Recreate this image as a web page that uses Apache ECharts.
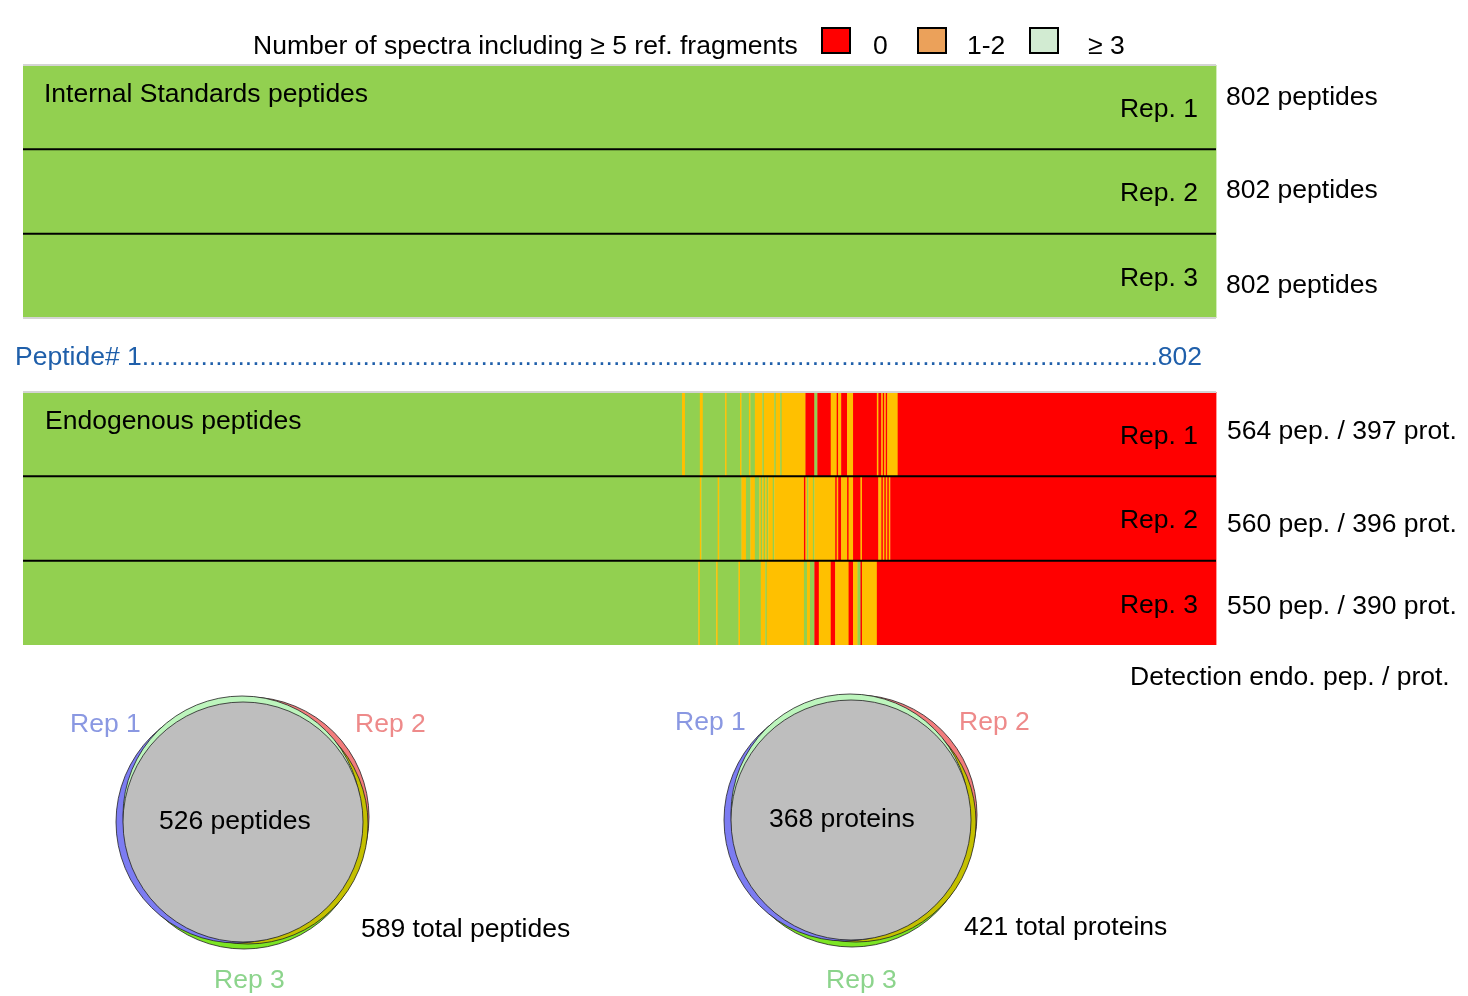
<!DOCTYPE html>
<html>
<head>
<meta charset="utf-8">
<script src="https://cdn.jsdelivr.net/npm/echarts@6/dist/echarts.min.js"></script>
<style>html,body{margin:0;padding:0;background:#fff}#c{width:1468px;height:996px}</style>
</head>
<body>
<div id="c"></div>
<script>
// ---------- data ----------
const repNames = ['Rep. 1', 'Rep. 2', 'Rep. 3'];
const nPeptides = 802;
const categoryNames = ['0', '1-2', '≥ 3']; // 0 = red, 1 = orange, 2 = green
const legendTitle = 'Number of spectra including ≥ 5 ref. fragments';

// runs: [startPeptide, endPeptide, category]
const internalRep1 = [[0, 802, 2]];
const internalRep2 = [[0, 802, 2]];
const internalRep3 = [[0, 802, 2]];

const endoRep1 = [[0,443,2],[443,445,1],[445,455,2],[455,457,1],[457,472,2],[472,473,1],[473,482,2],[482,483,1],
  [483,488,2],[488,489,1],[489,492,2],[492,497,1],[497,498,2],[498,505,1],[505,506,2],[506,509,1],[509,510,2],
  [510,526,1],[526,532,0],[532,534,2],[534,543,0],[543,547,1],[547,548,0],[548,550,1],[550,554,0],[554,558,1],
  [558,574,0],[574,575,1],[575,577,0],[577,578,1],[578,579,0],[579,580,1],[580,581,0],[581,588,1],[588,802,0]];
const endoRep2 = [[0,455,2],[455,456,1],[456,467,2],[467,468,1],[468,483,2],[483,486,1],[486,489,2],[489,492,1],
  [492,495,2],[495,496,1],[496,497,2],[497,498,1],[498,499,2],[499,500,1],[500,501,2],[501,504,1],[504,505,2],
  [505,525,1],[525,526,0],[526,527,1],[527,528,2],[528,531,1],[531,532,2],[532,546,1],[546,547,0],[547,548,1],
  [548,550,0],[550,554,1],[554,555,0],[555,558,1],[558,563,0],[563,564,1],[564,575,0],[575,577,1],[577,578,0],
  [578,579,1],[579,580,0],[580,581,1],[581,582,0],[582,583,1],[583,802,0]];
const endoRep3 = [[0,454,2],[454,455,1],[455,466,2],[466,467,1],[467,481,2],[481,482,1],[482,496,2],[496,499,1],
  [499,500,2],[500,525,1],[525,527,2],[527,529,1],[529,532,2],[532,535,0],[535,543,1],[543,546,0],[546,555,1],
  [555,558,0],[558,561,1],[561,563,2],[563,564,0],[564,574,1],[574,802,0]];

const internalCounts = ['802 peptides', '802 peptides', '802 peptides'];
const endoCounts = ['564 pep. / 397 prot.', '560 pep. / 396 prot.', '550 pep. / 390 prot.'];

// Venn: common and total counts
const vennPeptides = [526, 589];
const vennProteins = [368, 421];
const vennSetNames = ['Rep 1', 'Rep 2', 'Rep 3'];
// Venn region circles (drawing units, y up): [cx, cy, r]
// order: Rep3 only, Rep2 only, Rep2∩Rep3, Rep1 only, Rep1∩Rep2, all three
const vennCircles = [[1,-9,120],[6,3,120],[5,-4,120],[-6,-2,121],[-1,5,119],[0,-2,120]];

// ---------- styles ----------
const FONT = "'Liberation Sans', Arial, sans-serif";
const FS = 26.5;
const stripColors = ['#FF0000', '#FFC000', '#92D050'];
const legendColors = ['#FF0000', '#EBA15A', '#D2EBD2'];
const vennColors = ['#7CE524', '#F27C7C', '#C4C000', '#7C7CF2', '#BDF5BD', '#BEBEBE'];

function runsData(reps) {
  const out = [];
  reps.forEach((runs, r) => runs.forEach(([s, e, c]) => out.push([s, e, r, c])));
  return out;
}

function renderRun(params, api) {
  const s = api.value(0), e = api.value(1), r = api.value(2), c = api.value(3);
  const p0 = api.coord([s, r]);
  const p1 = api.coord([e, r]);
  const h = api.size([0, 1])[1];
  return {
    type: 'rect',
    shape: { x: p0[0], y: p0[1] - h / 2, width: Math.max(p1[0] - p0[0], 1) + 0.4, height: h },
    style: { fill: stripColors[c] }
  };
}

function renderSep(params, api) {
  const r = api.value(1), side = api.value(2), kind = api.value(3);
  const h = api.size([0, 1])[1];
  const y = api.coord([0, r])[1] + (side ? h / 2 : -h / 2);
  const x0 = api.coord([0, r])[0], x1 = api.coord([nPeptides, r])[0];
  return {
    type: 'line',
    shape: { x1: x0, y1: y, x2: x1, y2: y },
    style: kind ? { stroke: '#000', lineWidth: 2 } : { stroke: '#d4d4d4', lineWidth: 2 }
  };
}

function renderCircle(params, api) {
  const c = api.coord([api.value(0), api.value(1)]);
  const rr = api.size([api.value(2), 0])[0];
  return {
    type: 'circle',
    shape: { cx: c[0], cy: c[1], r: rr },
    style: { fill: vennColors[params.dataIndex], stroke: '#222', lineWidth: 0.8 }
  };
}

const stripGrids = [
  { left: 23, top: 65, width: 1193, height: 253 },
  { left: 23, top: 392, width: 1193, height: 253 }
];
const vennGrids = [
  { left: 113, top: 690, width: 260, height: 260 },
  { left: 721, top: 688, width: 260, height: 260 }
];

const xAxes = [], yAxes = [];
stripGrids.forEach((g, i) => {
  xAxes.push({ gridIndex: i, type: 'value', min: 0, max: nPeptides, show: false });
  yAxes.push({
    gridIndex: i, type: 'category', data: repNames, inverse: true, position: 'right', z: 10,
    axisLine: { show: false }, axisTick: { show: false }, splitLine: { show: false },
    axisLabel: {
      inside: true, margin: 18, color: '#000',
      formatter: '{a|{value}}',
      rich: { a: { fontSize: FS, fontFamily: FONT, color: '#000', padding: [5, 0, 0, 0] } }
    }
  });
});
vennGrids.forEach((g, i) => {
  xAxes.push({ gridIndex: i + 2, type: 'value', min: -130, max: 130, show: false });
  yAxes.push({ gridIndex: i + 2, type: 'value', min: -130, max: 130, show: false });
});

const series = [
  { type: 'custom', xAxisIndex: 0, yAxisIndex: 0, renderItem: renderRun, encode: { x: [0, 1], y: 2 },
    data: runsData([internalRep1, internalRep2, internalRep3]) },
  { type: 'custom', xAxisIndex: 1, yAxisIndex: 1, renderItem: renderRun, encode: { x: [0, 1], y: 2 },
    data: runsData([endoRep1, endoRep2, endoRep3]) },
  { type: 'custom', xAxisIndex: 0, yAxisIndex: 0, renderItem: renderSep, encode: { x: 0, y: 1 }, z: 5,
    data: [[0, 0, 0, 0], [0, 1, 0, 1], [0, 2, 0, 1], [0, 2, 1, 0]] },
  { type: 'custom', xAxisIndex: 1, yAxisIndex: 1, renderItem: renderSep, encode: { x: 0, y: 1 }, z: 5,
    data: [[0, 0, 0, 0], [0, 1, 0, 1], [0, 2, 0, 1]] },
  { type: 'custom', xAxisIndex: 2, yAxisIndex: 2, renderItem: renderCircle, encode: { x: 0, y: 1 }, data: vennCircles },
  { type: 'custom', xAxisIndex: 3, yAxisIndex: 3, renderItem: renderCircle, encode: { x: 0, y: 1 }, data: vennCircles }
];

function txt(x, y, text, color) {
  return {
    type: 'text', x: x, y: y + 2, z: 100,
    style: { text: text, font: FS + 'px ' + FONT, fill: color || '#000', verticalAlign: 'middle', align: 'left' }
  };
}

const graphics = [
  txt(253, 45, legendTitle),
  txt(873, 45, categoryNames[0]),
  txt(967, 45, categoryNames[1]),
  txt(1088, 45, categoryNames[2]),
  txt(44, 93, 'Internal Standards peptides'),
  txt(45, 420, 'Endogenous peptides'),
  txt(15, 356, 'Peptide# 1' + '.'.repeat(138) + String(nPeptides), '#1F5FAA'),
  txt(1130, 676, 'Detection endo. pep. / prot.'),
  txt(70, 723, vennSetNames[0], '#8A98E2'),
  txt(355, 723, vennSetNames[1], '#EE8A8A'),
  txt(214, 979, vennSetNames[2], '#8CD48C'),
  txt(159, 820, vennPeptides[0] + ' peptides'),
  txt(361, 928, vennPeptides[1] + ' total peptides'),
  txt(675, 721, vennSetNames[0], '#8A98E2'),
  txt(959, 721, vennSetNames[1], '#EE8A8A'),
  txt(826, 979, vennSetNames[2], '#8CD48C'),
  txt(769, 818, vennProteins[0] + ' proteins'),
  txt(964, 926, vennProteins[1] + ' total proteins')
];
[822, 918, 1030].forEach((x, i) => {
  graphics.push({ type: 'rect', x: x, y: 28, z: 100, shape: { width: 28, height: 25 },
    style: { fill: legendColors[i], stroke: '#000', lineWidth: 2 } });
});
[[96, 189, 284], [430, 523, 605]].forEach((ys, b) => {
  ys.forEach((y, i) => graphics.push(txt(b ? 1227 : 1226, y, (b ? endoCounts : internalCounts)[i])));
});

const chart = echarts.init(document.getElementById('c'), null, { renderer: 'canvas' });
chart.setOption({
  animation: false,
  backgroundColor: '#fff',
  grid: stripGrids.concat(vennGrids),
  xAxis: xAxes,
  yAxis: yAxes,
  series: series,
  graphic: graphics
});
</script>
</body>
</html>
